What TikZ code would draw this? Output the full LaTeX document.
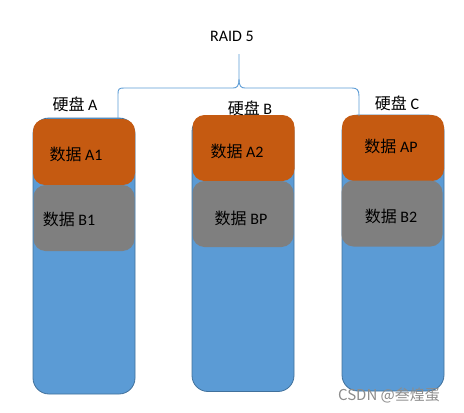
\documentclass[tikz,border=0pt]{standalone}
\usepackage{fontspec}
\setmainfont{Carlito}
\newfontfamily\cjk{Noto Sans CJK SC}
\definecolor{diskblue}{HTML}{5B9BD5}
\definecolor{diskedge}{HTML}{41719C}
\definecolor{blockorange}{HTML}{C55A11}
\definecolor{blockgray}{HTML}{7F7F7F}
\begin{document}
\begin{tikzpicture}[x=1pt,y=-1pt,
  disk/.style={draw=diskedge,line width=0.8pt,fill=diskblue,rounded corners=16pt,
    minimum width=102pt,minimum height=276pt,inner sep=0pt},
  blkA/.style={fill=blockorange,rounded corners=12pt,minimum width=102pt,minimum height=66pt,inner sep=0pt},
  blkB/.style={fill=blockgray,rounded corners=12pt,minimum width=101pt,minimum height=66pt,inner sep=0pt},
  txt/.style={font=\fontsize{16pt}{18pt}\selectfont,inner sep=0pt,text=black},
  brace/.style={draw=diskblue,line width=0.9pt}]
\useasboundingbox (0,0) rectangle (464,413);
% disks
\node[disk] (da) at (84,256) {};
\node[disk] (db) at (243,253.5) {};
\node[disk] (dc) at (393,253) {};
% blocks
\node[blkA] (a1) at (84,152) {};
\node[blkB] (b1) at (84,218) {};
\node[blkA] (a2) at (243.5,148) {};
\node[blkB] (bp) at (243,214) {};
\node[blkA] (ap) at (393,148) {};
\node[blkB] (b2) at (392,213.5) {};
% block texts
\node[txt] (ta1) at (76,154) {{\cjk 数据} A1};
\node[txt] (tb1) at (69,219) {{\cjk 数据} B1};
\node[txt] (ta2) at (237,151) {{\cjk 数据} A2};
\node[txt] (tbp) at (241,218) {{\cjk 数据} BP};
\node[txt] (tap) at (391,146) {{\cjk 数据} AP};
\node[txt] (tb2) at (391,216) {{\cjk 数据} B2};
% disk labels
\node[txt] (la) at (75,104) {{\cjk 硬盘} A};
\node[txt] (lb) at (250,108) {{\cjk 硬盘} B};
\node[txt] (lc) at (397,103) {{\cjk 硬盘} C};
% title
\node[txt] (raid) at (232,36) {RAID 5};
% brace
\coordinate (bl) at (118,118);
\coordinate (br) at (359,116);
\coordinate (bt) at (239,54);
\draw[brace] (bl) -- (118,94) .. controls (118,89) and (119,88) .. (124,88)
  -- (233,88) .. controls (237,88) and (239,86) .. (239,79) -- (bt);
\draw[brace] (239,79) .. controls (239,86) and (241,88) .. (245,88)
  -- (352,88) .. controls (357,88) and (359,90) .. (359,96) -- (br);
% watermark
\node[font=\cjk\fontsize{15pt}{17pt}\selectfont,text=black!45,inner sep=0pt] (wm) at (389,395) {CSDN @叁煌蛋};
\end{tikzpicture}
\end{document}
